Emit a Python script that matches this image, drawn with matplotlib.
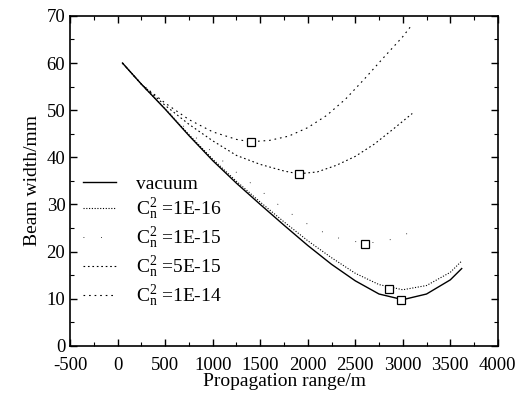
import matplotlib
matplotlib.use("Agg")
import matplotlib.pyplot as plt
from matplotlib.ticker import MultipleLocator

plt.rcParams['font.family'] = 'Liberation Serif'
plt.rcParams['mathtext.fontset'] = 'custom'
plt.rcParams['mathtext.rm'] = 'Liberation Serif'
plt.rcParams['mathtext.it'] = 'Liberation Serif:italic'
plt.rcParams['axes.unicode_minus'] = False

# values
vac_x = [50, 250, 500, 750, 1000, 1250, 1500, 1750, 2000, 2250, 2500, 2750, 3000, 3250, 3500, 3620]
vac_y = [60.0, 55.5, 50.2, 44.6, 39.3, 34.5, 30.0, 25.6, 21.3, 17.3, 13.8, 11.0, 9.8, 11.0, 14.0, 16.4]

c16_x = [50, 250, 500, 750, 1000, 1250, 1500, 1750, 2000, 2250, 2500, 2750, 3000, 3250, 3500, 3620]
c16_y = [60.0, 55.5, 50.3, 44.8, 39.6, 34.9, 30.5, 26.3, 22.3, 18.7, 15.4, 13.0, 11.9, 12.8, 15.6, 18.0]

c15_x = [50, 250, 500, 750, 1000, 1250, 1500, 1750, 2000, 2250, 2600, 2850, 3100]
c15_y = [60.0, 55.3, 50.3, 45.5, 41.0, 36.8, 33.0, 29.0, 25.8, 23.2, 21.7, 22.4, 24.2]

c5e15_x = [50, 250, 500, 750, 1000, 1250, 1500, 1750, 1900, 2100, 2300, 2500, 2700, 2900, 3100]
c5e15_y = [60.0, 55.5, 51.0, 47.0, 43.5, 40.4, 38.5, 37.1, 36.5, 36.9, 38.3, 40.2, 42.8, 46.0, 49.3]

c14_x = [50, 250, 500, 750, 1000, 1250, 1400, 1600, 1800, 2000, 2200, 2400, 2600, 2800, 3000, 3100]
c14_y = [60.0, 55.5, 51.5, 48.0, 45.4, 43.8, 43.3, 43.6, 44.5, 46.3, 48.9, 52.4, 56.7, 61.2, 65.6, 68.2]

# square markers at the minima
min_x = [1400, 1910, 2600, 2850, 2980]
min_y = [43.2, 36.5, 21.7, 12.0, 9.8]

fig = plt.figure(figsize=(5.24, 3.98), dpi=100)
ax = fig.add_axes([0.134, 0.131, 0.816, 0.829])

ax.plot(vac_x, vac_y, color='black', lw=1.0, label='vacuum')
ax.plot(c16_x, c16_y, color='black', lw=0.8, linestyle=(0, (1, 1.5)),
        label=r'$\mathrm{C_n^2}$ =1E-16')
ax.plot(c15_x, c15_y, color='black', lw=0.6, linestyle=(0, (1, 20)),
        label=r'$\mathrm{C_n^2}$ =1E-15')
ax.plot(c5e15_x, c5e15_y, color='black', lw=0.8, linestyle=(0, (1.5, 2.5)),
        label=r'$\mathrm{C_n^2}$ =5E-15')
ax.plot(c14_x, c14_y, color='black', lw=0.8, linestyle=(0, (1.5, 3.5)),
        label=r'$\mathrm{C_n^2}$ =1E-14')
ax.plot(min_x, min_y, linestyle='none', marker='s', markersize=6,
        markerfacecolor='white', markeredgecolor='black', markeredgewidth=0.9)

ax.set_xlim(-500, 4000)
ax.set_ylim(0, 70)
ax.xaxis.set_major_locator(MultipleLocator(500))
ax.xaxis.set_minor_locator(MultipleLocator(250))
ax.yaxis.set_major_locator(MultipleLocator(10))
ax.yaxis.set_minor_locator(MultipleLocator(5))
ax.tick_params(which='both', direction='in', top=True, right=True, labelsize=13.5)
ax.tick_params(which='major', length=5, width=1.0)
ax.tick_params(which='minor', length=3, width=0.8)
ax.tick_params(axis='x', which='major', pad=8)
for s in ax.spines.values():
    s.set_linewidth(1.2)

ax.set_xlabel('Propagation range/m', fontsize=14, labelpad=-1)
ax.set_ylabel('Beam width/mm', fontsize=14, labelpad=4)

ax.legend(loc='upper left', bbox_to_anchor=(0.03, 0.517), frameon=False,
          fontsize=14, handlelength=1.7, handletextpad=1.0, labelspacing=0.17,
          borderpad=0, borderaxespad=0)

fig.savefig('out.png', dpi=100)
